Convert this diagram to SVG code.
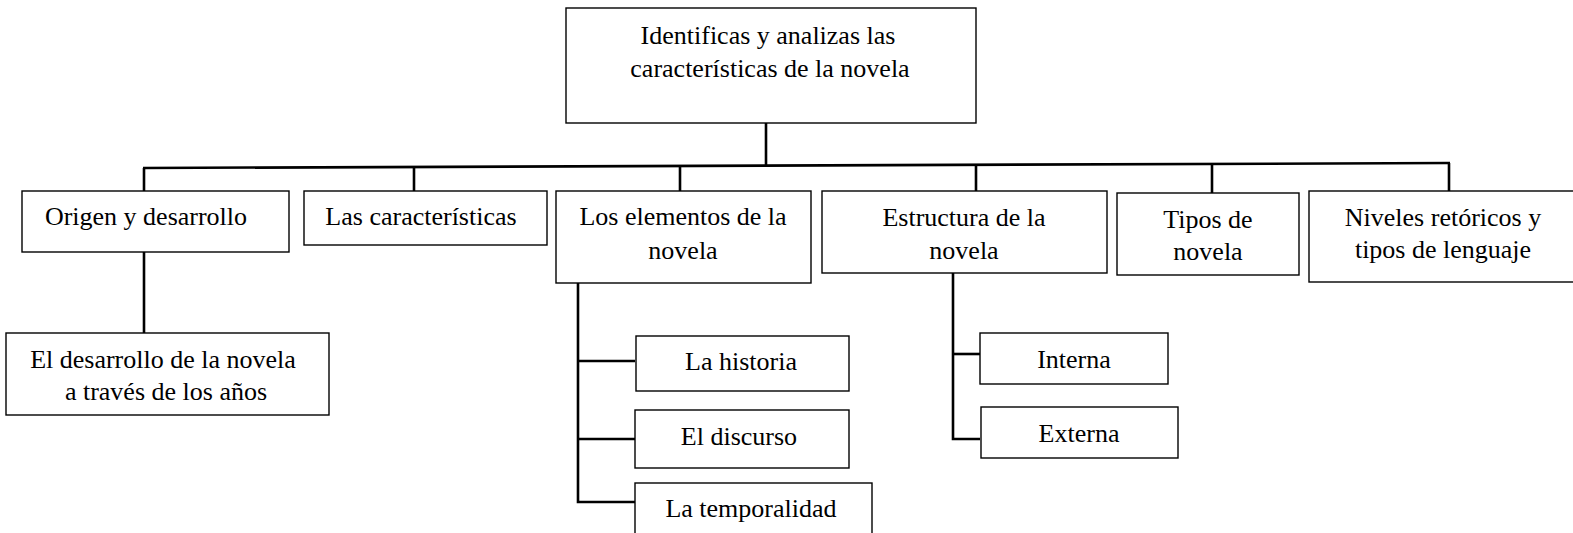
<svg xmlns="http://www.w3.org/2000/svg" width="1573" height="533" viewBox="0 0 1573 533">
<style>
.box{fill:#fff;stroke:#000;stroke-width:1.4}
.t{font-family:"Liberation Serif","Times New Roman",serif;font-size:26px;fill:#000;text-anchor:middle}
.c{stroke:#000;stroke-width:2.6;fill:none}
</style>
<rect width="1573" height="533" fill="#fff"/>
<g id="connectors">
<line class="c" x1="766" y1="123" x2="766" y2="166"/>
<line class="c" x1="143" y1="168" x2="1450" y2="163"/>
<line class="c" x1="144" y1="168" x2="144" y2="191"/>
<line class="c" x1="414" y1="167" x2="414" y2="191"/>
<line class="c" x1="680" y1="166" x2="680" y2="191"/>
<line class="c" x1="976" y1="165" x2="976" y2="191"/>
<line class="c" x1="1212" y1="164" x2="1212" y2="193"/>
<line class="c" x1="1449" y1="163" x2="1449" y2="191"/>
<line class="c" x1="144" y1="252" x2="144" y2="333"/>
<polyline class="c" points="578,283 578,502 635,502"/>
<line class="c" x1="578" y1="361" x2="635" y2="361"/>
<line class="c" x1="578" y1="439" x2="635" y2="439"/>
<polyline class="c" points="953,273 953,439 980,439"/>
<line class="c" x1="953" y1="354" x2="980" y2="354"/>
</g>
<g id="n-root"><rect class="box" x="566" y="8" width="410" height="115"/>
<text class="t" x="768" y="44">Identificas y analizas las</text>
<text class="t" x="770" y="77">características de la novela</text></g>
<g id="n-origen"><rect class="box" x="22" y="191" width="267" height="61"/>
<text class="t" x="146" y="225">Origen y desarrollo</text></g>
<g id="n-caracteristicas"><rect class="box" x="304" y="191" width="243" height="54"/>
<text class="t" x="421" y="225">Las características</text></g>
<g id="n-elementos"><rect class="box" x="556" y="191" width="255" height="92"/>
<text class="t" x="683" y="225">Los elementos de la</text>
<text class="t" x="683" y="259">novela</text></g>
<g id="n-estructura"><rect class="box" x="822" y="191" width="285" height="82"/>
<text class="t" x="964" y="226">Estructura de la</text>
<text class="t" x="964" y="259">novela</text></g>
<g id="n-tipos"><rect class="box" x="1117" y="193" width="182" height="82"/>
<text class="t" x="1208" y="228">Tipos de</text>
<text class="t" x="1208" y="260">novela</text></g>
<g id="n-niveles"><rect class="box" x="1309" y="191" width="280" height="91"/>
<text class="t" x="1443" y="226">Niveles retóricos y</text>
<text class="t" x="1443" y="258">tipos de lenguaje</text></g>
<g id="n-desarrollo"><rect class="box" x="6" y="333" width="323" height="82"/>
<text class="t" x="163" y="368">El desarrollo de la novela</text>
<text class="t" x="166" y="400">a través de los años</text></g>
<g id="n-historia"><rect class="box" x="636" y="336" width="213" height="55"/>
<text class="t" x="741" y="370">La historia</text></g>
<g id="n-discurso"><rect class="box" x="635" y="410" width="214" height="58"/>
<text class="t" x="739" y="445">El discurso</text></g>
<g id="n-temporalidad"><rect class="box" x="635" y="483" width="237" height="60"/>
<text class="t" x="751" y="517">La temporalidad</text></g>
<g id="n-interna"><rect class="box" x="980" y="333" width="188" height="51"/>
<text class="t" x="1074" y="368">Interna</text></g>
<g id="n-externa"><rect class="box" x="981" y="407" width="197" height="51"/>
<text class="t" x="1079" y="442">Externa</text></g>
</svg>
